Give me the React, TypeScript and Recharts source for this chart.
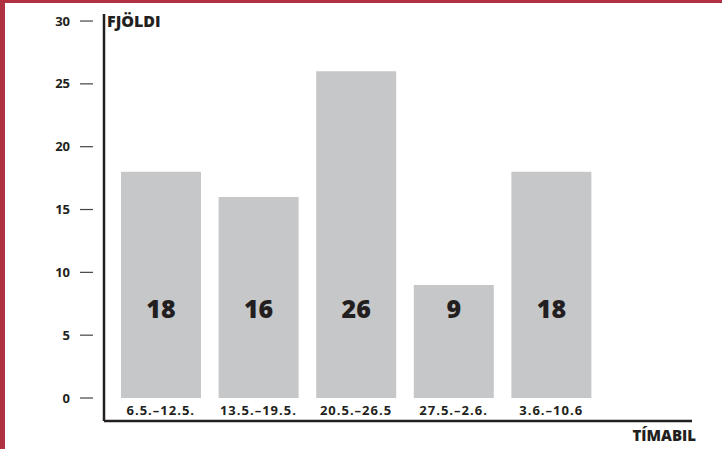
import React from 'react';
import { BarChart, Bar, XAxis, YAxis, LabelList } from 'recharts';

const periods = ['6.5.–12.5.', '13.5.–19.5.', '20.5.–26.5', '27.5.–2.6.', '3.6.–10.6'];
const counts = [18, 16, 26, 9, 18];
const yTicks = [0, 5, 10, 15, 20, 25, 30];

const data = periods.map((p, i) => ({ period: p, count: counts[i] }));

const INK = '#231f20';
const FONT = '"Open Sans", sans-serif';

const YTick = (props: any) => {
  const { x, y, payload } = props;
  return (
    <g>
      <line x1={x - 24} x2={x - 11} y1={y} y2={y} stroke="#444" strokeWidth={1.2} />
      <text x={x - 34} y={y + 4.5} textAnchor="end" fontFamily={FONT} fontWeight={700} fontSize={13} fill={INK}>
        {payload.value}
      </text>
    </g>
  );
};

const XTick = (props: any) => {
  const { x, y, payload } = props;
  return (
    <text
      x={x}
      y={y - 6}
      textAnchor="middle"
      fontFamily={FONT}
      fontWeight={700}
      fontSize={13}
      letterSpacing={1}
      fill={INK}
    >
      {payload.value}
    </text>
  );
};

const ValueLabel = (props: any) => {
  const { x, y, width, height, value } = props;
  return (
    <text x={x + width / 2} y={y + height - 80} textAnchor="middle" fontFamily={FONT} fontWeight={800} fontSize={25} fill={INK}>
      {value}
    </text>
  );
};

export default function App() {
  return (
    <div
      style={{
        position: 'fixed',
        top: 0,
        left: 0,
        width: 722,
        height: 449,
        background: '#fff',
        boxSizing: 'border-box',
        borderTop: '3px solid #b03242',
        borderLeft: '5px solid #b03242',
      }}
    >
      <div style={{ position: 'absolute', top: -3, left: -5 }}>
        <BarChart width={722} height={449} data={data} margin={{ top: 14, right: 30, bottom: 0, left: 0 }}>
          <YAxis
            width={104}
            domain={[-1.83, 30.56]}
            ticks={yTicks}
            allowDataOverflow
            tickLine={false}
            tickSize={0}
            tickMargin={0}
            axisLine={{ stroke: INK, strokeWidth: 2.5 }}
            tick={<YTick />}
            label={{
              content: ({ viewBox }: any) => (
                <text
                  x={viewBox.x + viewBox.width + 3}
                  y={viewBox.y + 13}
                  fontFamily={FONT}
                  fontWeight={800}
                  fontSize={16}
                  fill={INK}
                >
                  FJÖLDI
                </text>
              ),
            }}
          />
          <XAxis
            dataKey="period"
            height={28}
            padding={{ left: 8, right: 92 }}
            tickLine={false}
            tickSize={0}
            tickMargin={0}
            axisLine={{ stroke: INK, strokeWidth: 2.5 }}
            tick={<XTick />}
            interval={0}
            label={{
              content: ({ viewBox }: any) => (
                <text
                  x={viewBox.x + viewBox.width + 4}
                  y={viewBox.y + 20}
                  textAnchor="end"
                  fontFamily={FONT}
                  fontWeight={800}
                  fontSize={15}
                  fill={INK}
                >
                  TÍMABIL
                </text>
              ),
            }}
          />
          <Bar dataKey="count" fill="#c6c7c9" barSize={80} isAnimationActive={false}>
            <LabelList dataKey="count" content={<ValueLabel />} />
          </Bar>
        </BarChart>
      </div>
    </div>
  );
}
